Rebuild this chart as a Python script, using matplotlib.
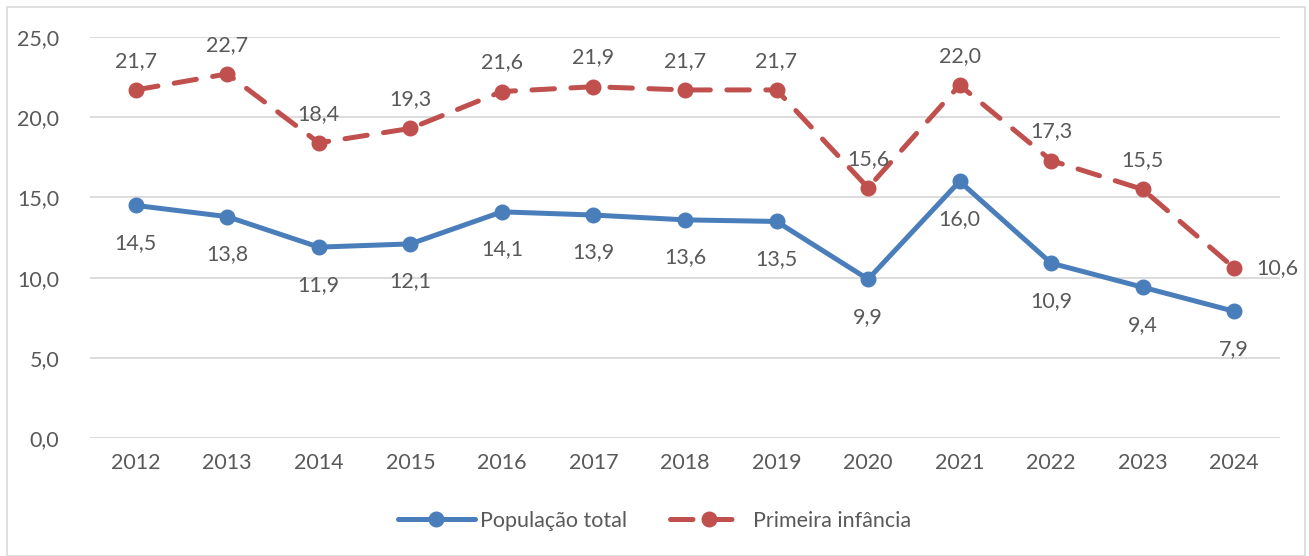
import matplotlib
matplotlib.use("Agg")
import matplotlib.pyplot as plt
from matplotlib.patches import Rectangle

years = ["2012", "2013", "2014", "2015", "2016", "2017", "2018", "2019", "2020", "2021", "2022", "2023", "2024"]
pop_total = [14.5, 13.8, 11.9, 12.1, 14.1, 13.9, 13.6, 13.5, 9.9, 16.0, 10.9, 9.4, 7.9]
primeira = [21.7, 22.7, 18.4, 19.3, 21.6, 21.9, 21.7, 21.7, 15.6, 22.0, 17.3, 15.5, 10.6]
yticks = [0, 5, 10, 15, 20, 25]

plt.rcParams['font.family'] = ['Lato', 'DejaVu Sans']
txt = '#595959'
blue = '#4A7EBB'
red = '#C0504D'
fs = 15.5

fig = plt.figure(figsize=(13.09, 5.56), dpi=100)
ax = fig.add_axes([90/1309, 118/556, 1190/1309, 401/556])
x = list(range(len(years)))

ax.plot(x, pop_total, color=blue, lw=3.6, marker='o', ms=10.5,
        solid_capstyle='round', label='População total', zorder=3)
ax.plot(x, primeira, color=red, lw=3.6, marker='o', ms=10.5,
        dashes=(4.5, 3.3), dash_capstyle='round', label='Primeira infância', zorder=3)

fmt = lambda v: f"{v:.1f}".replace('.', ',')
for i, v in enumerate(pop_total):
    ax.annotate(fmt(v), (i, v), xytext=(0, -27), textcoords='offset points',
                ha='center', va='center', fontsize=fs, color=txt)
for i, v in enumerate(primeira):
    if i == len(primeira) - 1:
        ax.annotate(fmt(v), (i, v), xytext=(31, 0), textcoords='offset points',
                    ha='center', va='center', fontsize=fs, color=txt)
    else:
        ax.annotate(fmt(v), (i, v), xytext=(0, 21), textcoords='offset points',
                    ha='center', va='center', fontsize=fs, color=txt)

ax.set_xlim(-0.5, len(years) - 0.5)
ax.set_ylim(0, 25)
ax.set_yticks(yticks)
ax.set_yticklabels([fmt(float(t)) for t in yticks])
ax.set_xticks(x)
ax.set_xticklabels(years)
ax.tick_params(axis='both', length=0, labelsize=fs, colors=txt)
ax.tick_params(axis='x', pad=11)
ax.tick_params(axis='y', pad=22)
ax.grid(axis='y', color='#D9D9D9', lw=1.3)
ax.set_axisbelow(True)
for s in ax.spines.values():
    s.set_visible(False)

leg = fig.legend(loc='center', bbox_to_anchor=(0.5, 35/556), ncol=2, frameon=False,
                 fontsize=fs, handlelength=3.6, columnspacing=2.0, handletextpad=0.25)
for t in leg.get_texts():
    t.set_color(txt)

fig.patches.append(Rectangle((7/1309, 0), 1298/1309, 549/556, transform=fig.transFigure,
                             fill=False, edgecolor='#D9D9D9', lw=1.2))

fig.savefig('out.png', dpi=100)
